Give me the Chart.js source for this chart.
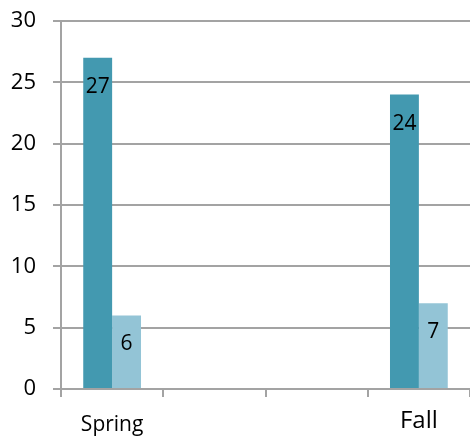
<!DOCTYPE html>
<html lang="en">
<head>
    <meta charset="UTF-8">
    <title>Spring / Fall</title>
    <script src="https://cdn.jsdelivr.net/npm/chart.js"></script>
    <style>
        body { margin: 0; background: #fff; }
        #wrap { width: 470px; height: 441px; }
    </style>
</head>
<body>
    <div id="wrap"><canvas id="myBarChart" width="470" height="441"></canvas></div>
    <script>
        // Chart data
        const categories = ['Spring', '', '', 'Fall'];
        const seriesA = [27, null, null, 24];
        const seriesB = [6, null, null, 7];
        const yTicks = [0, 5, 10, 15, 20, 25, 30];

        const gridColor = '#a3a3a3';
        const fontFamily = "'Open Sans', 'Noto Sans', sans-serif";

        // Draw values inside the top of each bar
        const valueLabels = {
            id: 'valueLabels',
            afterDatasetsDraw(chart) {
                const ctx = chart.ctx;
                ctx.save();
                ctx.fillStyle = '#000';
                ctx.font = '21px ' + fontFamily;
                ctx.textAlign = 'center';
                ctx.textBaseline = 'middle';
                chart.data.datasets.forEach((ds, i) => {
                    chart.getDatasetMeta(i).data.forEach((bar, j) => {
                        if (ds.data[j] == null) return;
                        ctx.fillText(ds.data[j], bar.x, bar.y + 29);
                    });
                });
                ctx.restore();
            }
        };

        const ctx = document.getElementById('myBarChart').getContext('2d');

        const myBarChart = new Chart(ctx, {
            type: 'bar',
            data: {
                labels: categories,
                datasets: [
                    { label: 'Series 1', data: seriesA, backgroundColor: '#4399b0' },
                    { label: 'Series 2', data: seriesB, backgroundColor: '#93c4d6' }
                ]
            },
            options: {
                responsive: false,
                animation: false,
                categoryPercentage: 0.565,
                barPercentage: 1,
                layout: { padding: { top: 21, right: 0, left: 0, bottom: 0 } },
                plugins: {
                    legend: { display: false },
                    tooltip: { enabled: false }
                },
                scales: {
                    x: {
                        grid: {
                            drawOnChartArea: false,
                            color: gridColor,
                            lineWidth: 2,
                            tickLength: 8
                        },
                        border: { color: gridColor, width: 2 },
                        ticks: {
                            color: '#000',
                            padding: 10,
                            maxRotation: 0,
                            font: (c) => c.index === 3
                                ? { family: fontFamily, size: 24, lineHeight: 1.2 }
                                : { family: fontFamily, size: 21, lineHeight: 1.7 }
                        },
                        afterFit(scale) { scale.height = 52; }
                    },
                    y: {
                        min: 0,
                        max: 30,
                        afterBuildTicks(scale) {
                            scale.ticks = yTicks.map(v => ({ value: v }));
                        },
                        grid: {
                            color: gridColor,
                            lineWidth: 2,
                            tickLength: 8
                        },
                        border: { color: gridColor, width: 2 },
                        ticks: {
                            color: '#000',
                            padding: 17,
                            font: { family: fontFamily, size: 22 }
                        },
                        afterFit(scale) {
                            scale.width = 61;
                            scale.paddingTop = 0;
                            scale.paddingBottom = 0;
                        }
                    }
                }
            },
            plugins: [valueLabels]
        });
    </script>
</body>
</html>
